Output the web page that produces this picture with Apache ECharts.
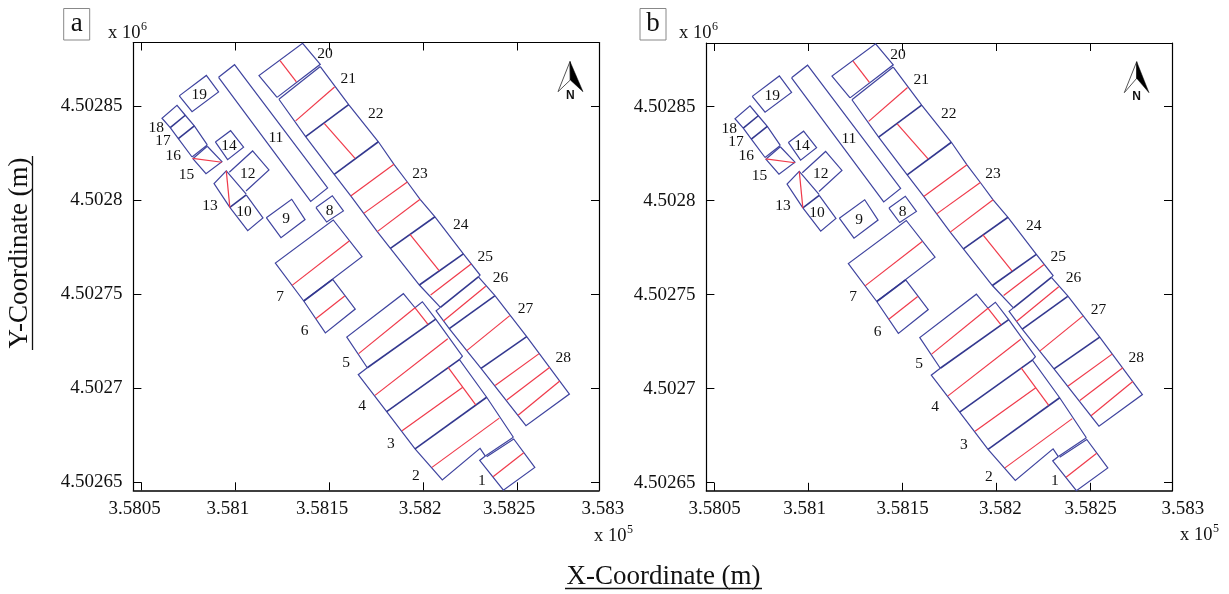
<!DOCTYPE html>
<html>
<head>
<meta charset="utf-8">
<style>html,body{margin:0;padding:0;background:#fff}#c{width:1229px;height:594px}</style>
<script src="https://cdn.jsdelivr.net/npm/echarts@6/dist/echarts.min.js"></script>
</head>
<body>
<div id="c"></div>
<script>
// Site map coordinates, metres east of X = 3.5805e5 and north of Y = 4.50265e6
const xTickValues = [0, 50, 100, 150, 200];
const xTickLabelValues = [0, 50, 100, 150, 200, 250];
const xTickLabels = ['3.5805', '3.581', '3.5815', '3.582', '3.5825', '3.583'];
const yTickValues = [0, 50, 100, 150, 200];
const yTickLabels = ['4.50265', '4.5027', '4.50275', '4.5028', '4.50285'];

const buildingNames = ['1','2','3','4','5','6','7','8','9','10','11','12','13','14','15','16','17','18','19','20','21','22','23','24','25','26','27','28'];
const buildingLabelAnchors = [
  [180.9,0.7],[145.9,3.2],[132.5,20.2],[117.2,40.4],[108.7,63.1],[86.7,80.3],[73.6,98.6],
  [100.0,144.2],[76.8,139.9],[54.4,143.5],[71.4,183.0],[56.4,164.0],[36.3,147.0],[46.4,178.8],
  [23.9,163.3],[16.8,173.6],[11.3,181.3],[7.8,188.2],[30.6,205.9],[97.5,227.5],[109.9,214.2],
  [124.5,195.9],[148.1,164.0],[169.7,136.7],[182.8,119.9],[190.8,108.7],[204.1,92.0],[224.3,66.1]
];

// Building outlines (thin blue)
const outlines = [
  [[20.0,205.4],[34.4,216.3],[40.9,207.5],[26.8,197.0],[20.0,205.4]],
  [[15.2,188.5],[10.8,193.5],[18.8,200.4],[23.2,195.1],[28.0,189.4],[34.9,179.3]],
  [[15.2,188.5],[19.5,182.7],[26.8,172.9]],
  [[26.8,172.9],[34.9,179.3]],
  [[27.5,172.2],[34.9,178.6]],
  [[27.1,172.2],[34.2,164.0],[42.7,170.4],[34.9,178.6]],
  [[39.2,180.9],[47.3,186.9],[54.2,178.1],[45.7,171.5],[39.2,180.9]],
  [[46.6,164.8],[59.0,176.1],[67.7,166.0],[55.5,154.8]],
  [[46.9,146.1],[38.5,158.7],[45.0,165.5],[55.6,153.1]],
  [[55.6,152.7],[64.5,140.5],[56.4,133.7],[46.9,146.1]],
  [[40.9,215.3],[49.4,222.0],[98.9,156.4],[89.9,149.3],[40.9,215.3]],
  [[66.3,140.6],[79.8,150.4],[86.9,139.6],[74.1,130.0],[66.3,140.6]],
  [[92.7,146.0],[101.4,152.3],[107.3,144.2],[98.4,138.3],[92.7,146.0]],
  [[72.0,204.6],[62.4,216.2],[85.6,233.4],[95.0,222.2],[72.0,204.6]],
  [[73.0,203.6],[95.0,221.0]],
  [[73.0,203.6],[87.2,183.7],[102.4,163.7],[111.2,152.2],[118.1,142.9],[125.3,133.2],[132.3,124.3],[147.7,104.8],[158.9,92.9]],
  [[95.0,221.0],[110.1,200.7],[125.9,181.0],[134.2,169.0],[141.3,159.6],[148.1,150.4],[156.0,141.1],[171.1,121.4],[180.0,110.1],[179.1,109.1]],
  [[179.1,109.1],[187.8,99.3],[204.8,77.3],[227.5,46.8],[204.4,30.0],[180.5,60.5],[172.9,69.9],[163.6,81.6],[156.6,91.1],[158.9,92.9]],
  [[86.2,96.3],[71.1,116.5],[101.9,139.4],[117.2,119.9],[86.2,96.3]],
  [[86.2,96.3],[97.7,79.3],[113.6,92.0],[101.6,107.8]],
  [[120.0,60.8],[109.1,77.1],[139.2,100.2],[145.4,92.7],[149.3,95.9],[156.4,86.7],[170.6,66.9],[169.0,65.1],[183.5,45.1],[197.7,23.8]],
  [[120.0,60.8],[115.2,57.1],[130.3,37.4],[145.4,17.6],[159.9,1.1],[180.0,17.9],[182.8,13.8]],
  [[182.8,13.8],[179.8,11.5],[192.4,-4.3],[209.1,7.8],[197.9,22.9],[183.5,13.5]],
  [[182.8,13.8],[197.7,23.8]]
];

// Partition walls (heavier blue)
const dividers = [
  [[15.2,188.5],[23.2,195.1]],
  [[19.5,182.7],[28.0,189.4]],
  [[46.9,146.1],[55.6,152.7]],
  [[87.2,183.7],[110.1,200.7]],
  [[102.4,163.7],[125.9,181.0]],
  [[132.3,124.3],[156.0,141.1]],
  [[147.7,104.8],[171.1,121.4]],
  [[158.9,92.9],[179.1,109.1]],
  [[163.6,81.6],[187.8,99.0]],
  [[180.5,60.5],[204.8,77.3]],
  [[86.2,96.3],[101.6,107.8]],
  [[120.0,60.8],[156.4,86.7]],
  [[130.3,37.4],[169.0,65.1]],
  [[145.4,17.6],[183.5,45.1]]
];

// Red centre lines
const redLines = [
  [[27.1,172.2],[42.7,170.1]],
  [[45.0,165.5],[46.9,146.1]],
  [[73.6,224.2],[82.3,212.8]],
  [[81.9,192.1],[102.6,210.1]],
  [[97.1,190.8],[113.5,172.2]],
  [[111.2,152.2],[134.2,169.0]],
  [[118.1,142.9],[141.3,159.6]],
  [[125.3,133.2],[148.1,150.4]],
  [[142.7,131.8],[158.2,112.5]],
  [[153.7,99.5],[175.2,116.0]],
  [[160.5,85.7],[183.0,104.1]],
  [[172.9,69.9],[195.8,88.5]],
  [[188.0,51.4],[211.4,68.3]],
  [[194.2,43.6],[217.1,61.0]],
  [[200.2,35.5],[222.4,53.7]],
  [[80.0,104.6],[110.4,128.2]],
  [[92.6,86.9],[108.0,99.0]],
  [[115.4,68.3],[145.4,92.7]],
  [[145.4,92.7],[152.3,83.9]],
  [[124.1,46.1],[162.8,76.2]],
  [[138.5,27.3],[170.8,50.4]],
  [[163.0,61.0],[177.7,41.0]],
  [[154.4,7.8],[190.2,34.0]],
  [[186.9,2.8],[203.2,15.6]]
];

const xRange = [-4.4, 243.25];
const yRange = [-4.4, 233.8];
const xLabelNudgeA = [-7, -7.7, -7.5, -3.6, -8.5, -8.7];
const xLabelNudgeB = [0, -4, 0, 3.7, 0, -1.7];

const SERIF = '"Liberation Serif", "Times New Roman", serif';
const BLUE = '#3f449f', DARK = '#33388f', RED = '#f03a4a', INK = '#111';

const panels = [
  {key:'a', left:133.4, top:42.5, nudge:xLabelNudgeA, box:[63.7,8.5], exp6:[108,33], exp5:[594,536],
   tip:[570,61.5], lf:[558,91.7], rf:[583,91.7], notch:[570.3,80], n:[570.3,96]},
  {key:'b', left:706.4, top:43,   nudge:xLabelNudgeB, box:[640,8.5], exp6:[679,33], exp5:[1180,535],
   tip:[1136.7,61.7], lf:[1124.3,92.7], rf:[1149,92.7], notch:[1136.7,78.3], n:[1136.7,97]}
];
const GRID_W = 465.6, GRID_H = 447.8;

const grid = [], xAxis = [], yAxis = [], series = [], graphic = [];

panels.forEach((p, i) => {
  grid.push({left:p.left, top:p.top, width:GRID_W, height:GRID_H});
  const line = w => ({show:true, onZero:false, lineStyle:{color:'#000', width:w}});
  const tick = vals => ({show:true, inside:true, length:8, customValues:vals, lineStyle:{color:'#000', width:1}});
  ['bottom','top'].forEach(pos => xAxis.push({
    type:'value', gridIndex:i, position:pos, min:xRange[0], max:xRange[1],
    axisLine:line(pos === 'bottom' ? 1.6 : 1.2), axisTick:tick(xTickValues),
    axisLabel:{show:false}, splitLine:{show:false}
  }));
  ['left','right'].forEach(pos => yAxis.push({
    type:'value', gridIndex:i, position:pos, min:yRange[0], max:yRange[1],
    axisLine:line(1.2), axisTick:tick(yTickValues),
    axisLabel: pos === 'left' ? {
      show:true, customValues:yTickValues, margin:11, fontFamily:SERIF, fontSize:19, color:INK,
      formatter:v => yTickLabels[yTickValues.indexOf(v)]
    } : {show:false},
    splitLine:{show:false}
  }));
  const axes = {xAxisIndex:i*2, yAxisIndex:i*2};
  const linesSeries = (name, list, color, width) => ({
    type:'lines', name, coordinateSystem:'cartesian2d', polyline:true, ...axes, silent:true, clip:false,
    lineStyle:{color, width, opacity:1},
    data:list.map(coords => ({coords}))
  });
  series.push(linesSeries('outlines', outlines, BLUE, 1.2));
  series.push(linesSeries('dividers', dividers, DARK, 1.6));
  series.push(linesSeries('red', redLines, RED, 1.2));
  series.push({
    type:'scatter', name:'buildings', ...axes, symbolSize:1, itemStyle:{color:'rgba(0,0,0,0)', opacity:1}, silent:true,
    data:buildingNames.map((n,k) => ({value:buildingLabelAnchors[k], name:n})),
    label:{show:true, position:'inside', formatter:d => d.name, fontFamily:SERIF, fontSize:15.5, color:INK}
  });
  series.push({
    type:'scatter', name:'xTickLabels', ...axes, symbolSize:1, clip:false, itemStyle:{color:'rgba(0,0,0,0)', opacity:1}, silent:true,
    data:xTickLabelValues.map((v,k) => ({
      value:[v, yRange[0]], name:xTickLabels[k],
      label:{offset:[p.nudge[k], 18.5]}
    })),
    label:{show:true, position:'inside', formatter:d => d.name, fontFamily:SERIF, fontSize:19, color:INK}
  });

  // panel tag
  graphic.push({type:'rect', shape:{x:p.box[0], y:p.box[1], width:26, height:31.5}, style:{fill:'#fff', stroke:'#888', lineWidth:1}});
  graphic.push({type:'text', x:p.box[0]+13, y:p.box[1]+15, style:{text:p.key, font:'27px '+SERIF, fill:INK, align:'center', verticalAlign:'middle'}});
  // axis exponents
  [[p.exp6,'6'],[p.exp5,'5']].forEach(([pos,e]) => {
    graphic.push({type:'text', x:pos[0], y:pos[1], style:{text:'x 10', font:'18.5px '+SERIF, fill:INK, align:'left', verticalAlign:'middle'}});
    graphic.push({type:'text', x:pos[0]+33, y:pos[1]-6, style:{text:e, font:'12px '+SERIF, fill:INK, align:'left', verticalAlign:'middle'}});
  });
  // north arrow
  graphic.push({type:'polygon', shape:{points:[p.tip,p.lf,p.notch]}, style:{fill:'#fff', stroke:'#555', lineWidth:1}});
  graphic.push({type:'polygon', shape:{points:[p.tip,p.rf,p.notch]}, style:{fill:'#000', stroke:'#000', lineWidth:0.5}});
  graphic.push({type:'text', x:p.n[0], y:p.n[1], style:{text:'N', font:'bold 12px "Liberation Sans", Arial, sans-serif', fill:INK, align:'center', verticalAlign:'middle'}});
});

// axis titles, underlined
graphic.push({type:'text', x:20, y:253, rotation:Math.PI/2, style:{text:'Y-Coordinate (m)', font:'27px '+SERIF, fill:INK, align:'center', verticalAlign:'middle'}});
graphic.push({type:'line', shape:{x1:32.5, y1:156, x2:32.5, y2:350}, style:{stroke:INK, lineWidth:1.3}});
graphic.push({type:'text', x:663.5, y:577, style:{text:'X-Coordinate (m)', font:'27px '+SERIF, fill:INK, align:'center', verticalAlign:'middle'}});
graphic.push({type:'line', shape:{x1:565, y1:588.5, x2:762, y2:588.5}, style:{stroke:INK, lineWidth:1.3}});

const chart = echarts.init(document.getElementById('c'), null, {renderer:'canvas'});
chart.setOption({animation:false, backgroundColor:'#fff', grid, xAxis, yAxis, series, graphic});
</script>
</body>
</html>
